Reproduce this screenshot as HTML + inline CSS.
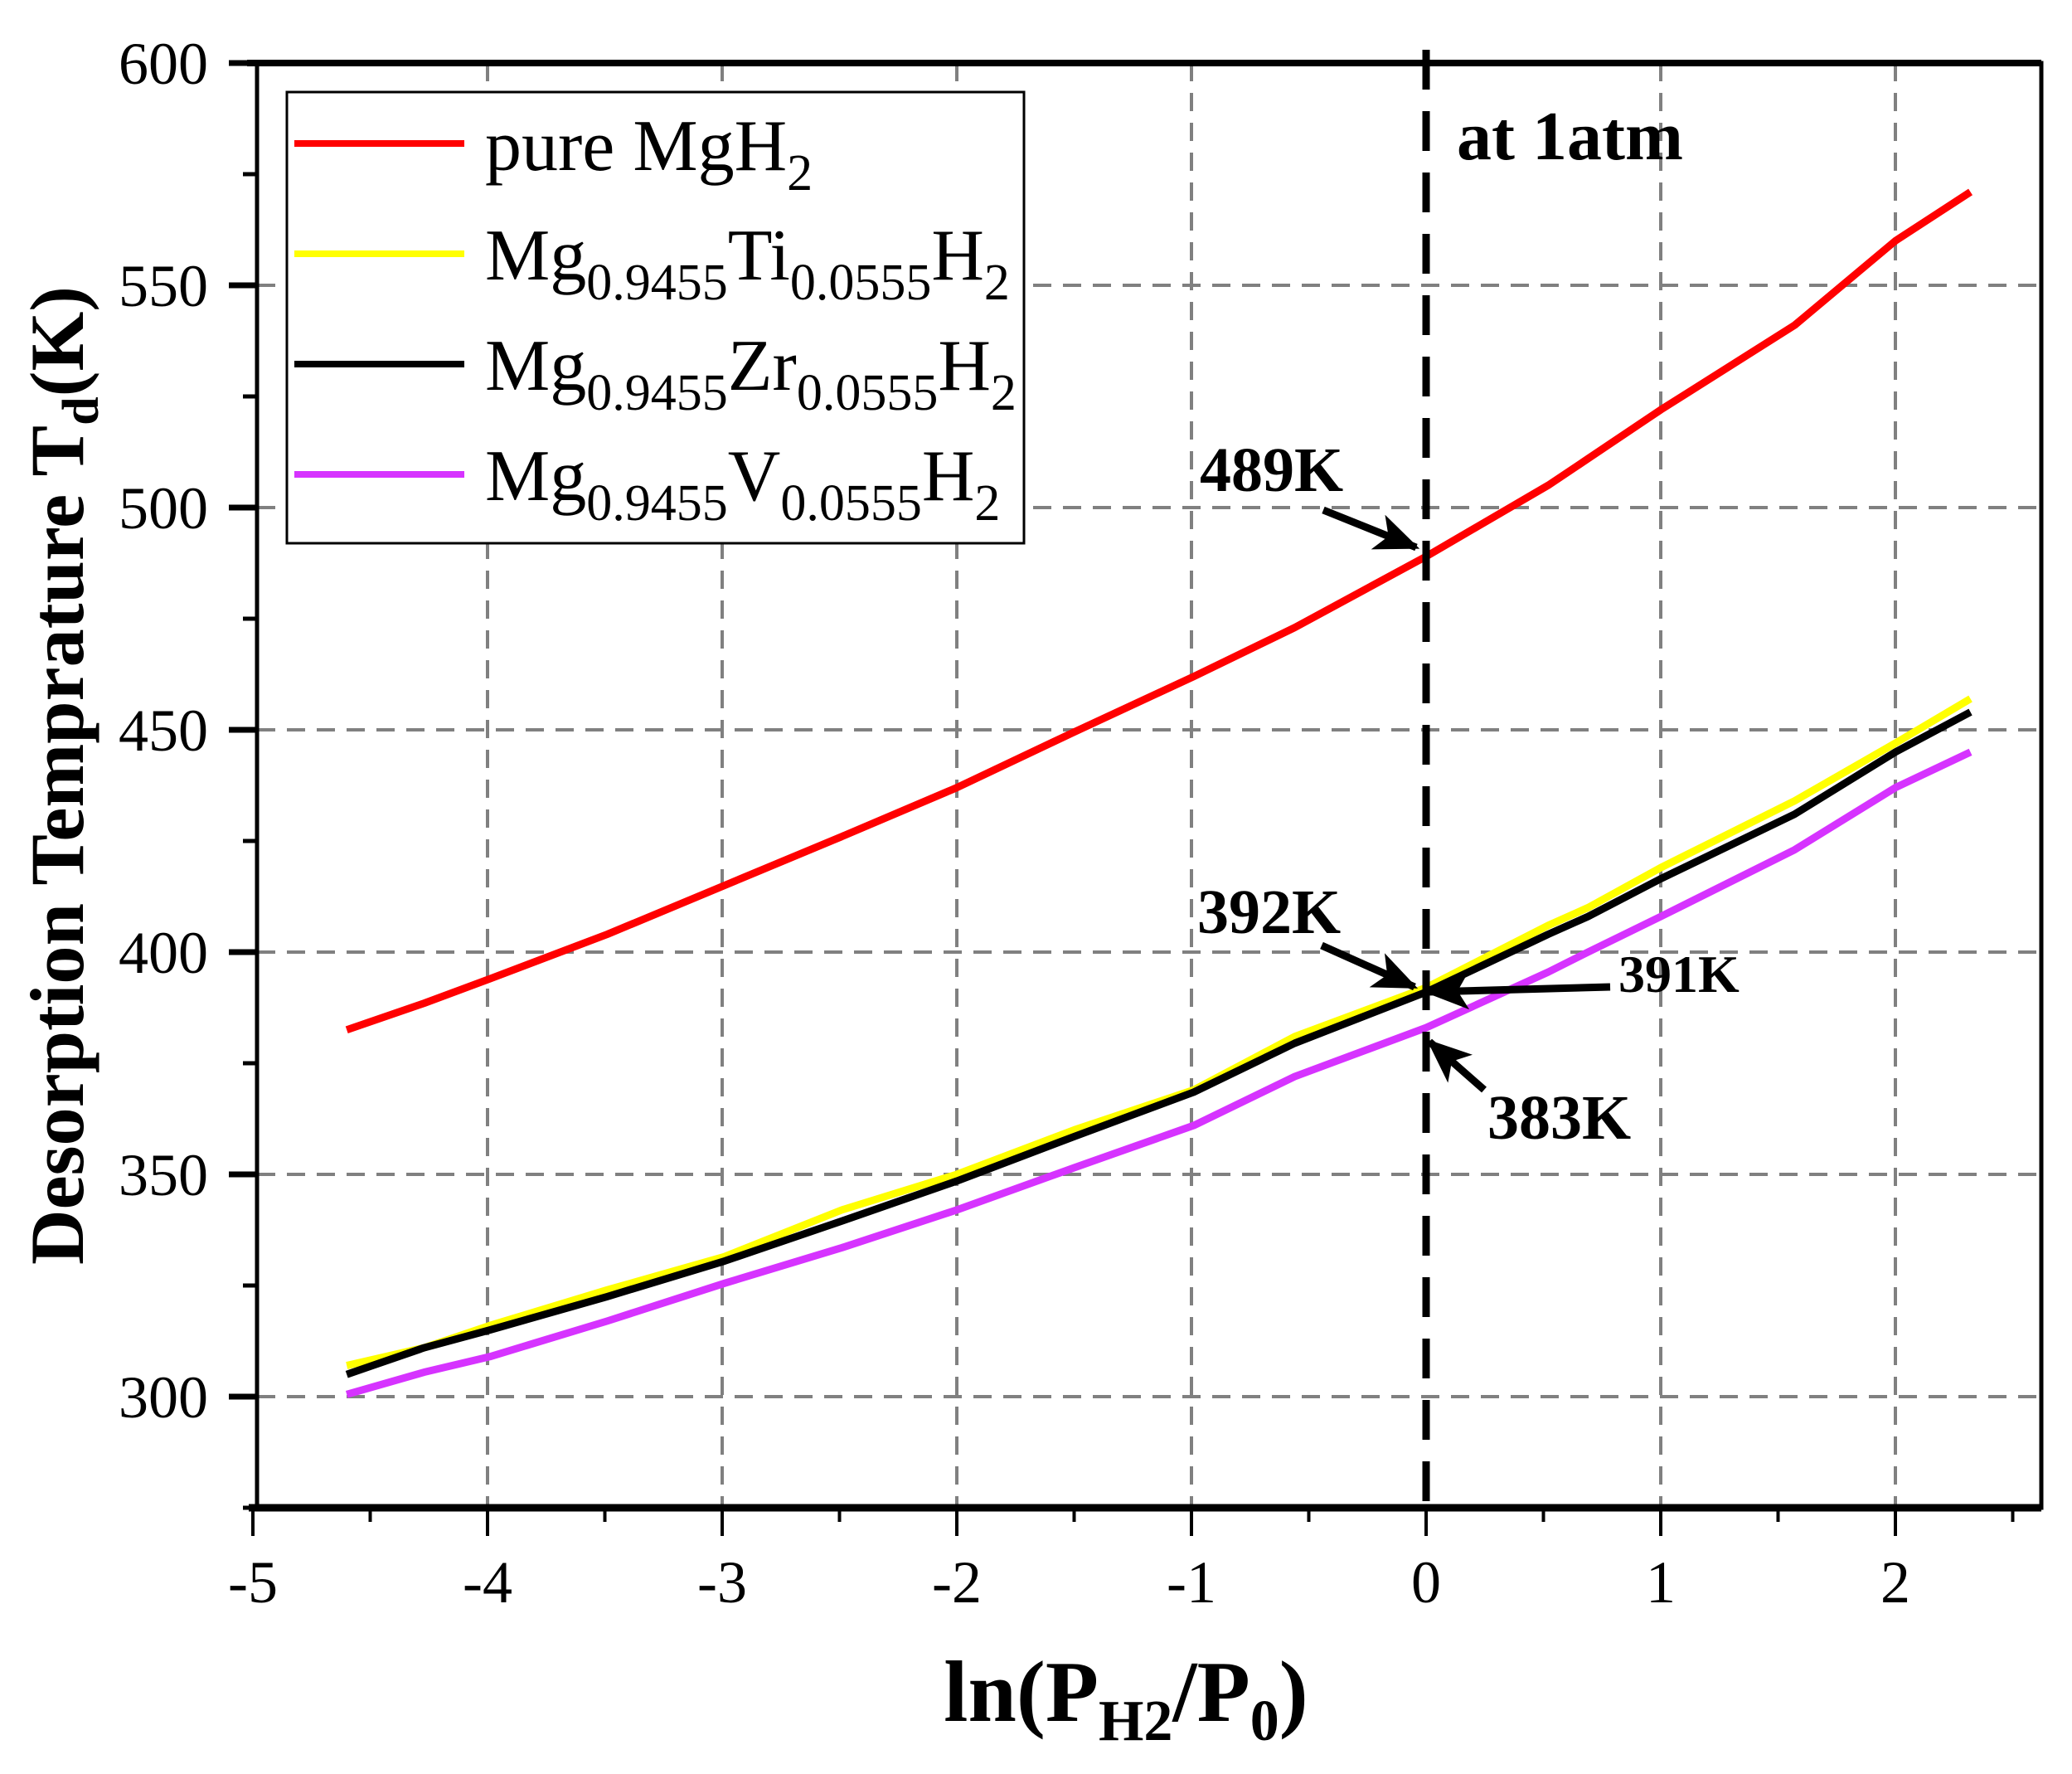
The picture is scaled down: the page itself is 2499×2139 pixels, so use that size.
<!DOCTYPE html>
<html><head><meta charset="utf-8"><style>
html,body{margin:0;padding:0;background:#fff;}
svg{display:block;font-family:"Liberation Serif",serif;}
</style></head><body>
<svg id="chart" width="2499" height="2139" viewBox="0 0 2499 2139" xmlns="http://www.w3.org/2000/svg">
<g id="grid"></g>
<g id="series"></g>
<g id="axes"></g>
<rect x="346" y="111" width="889" height="544" fill="#fff" stroke="#000" stroke-width="3"/>
<g font-size="88">
 <line x1="355" y1="173" x2="560" y2="173" stroke="#ff0000" stroke-width="8"/>
 <text x="585" y="205">pure MgH<tspan font-size="62" dy="24">2</tspan></text>
 <line x1="355" y1="306" x2="560" y2="306" stroke="#ffff00" stroke-width="8"/>
 <text x="585" y="337">Mg<tspan font-size="62" dy="24">0.9455</tspan><tspan dy="-24">Ti</tspan><tspan font-size="62" dy="24">0.0555</tspan><tspan dy="-24">H</tspan><tspan font-size="62" dy="24">2</tspan></text>
 <line x1="355" y1="439" x2="560" y2="439" stroke="#000" stroke-width="8"/>
 <text x="585" y="470">Mg<tspan font-size="62" dy="24">0.9455</tspan><tspan dy="-24">Zr</tspan><tspan font-size="62" dy="24">0.0555</tspan><tspan dy="-24">H</tspan><tspan font-size="62" dy="24">2</tspan></text>
 <line x1="355" y1="572" x2="560" y2="572" stroke="#d633ff" stroke-width="8"/>
 <text x="585" y="603">Mg<tspan font-size="62" dy="24">0.9455</tspan><tspan dy="-24">V</tspan><tspan font-size="62" dy="24">0.0555</tspan><tspan dy="-24">H</tspan><tspan font-size="62" dy="24">2</tspan></text>
</g>
<line x1="1720" y1="60" x2="1720" y2="1818" stroke="#000" stroke-width="9" stroke-dasharray="48,26"/>
<text x="1757" y="192" font-size="84" font-weight="bold">at 1atm</text>
<defs><marker id="ah" markerWidth="6" markerHeight="5" refX="5.5" refY="2.5" orient="auto" markerUnits="strokeWidth"><path d="M0,0 L6,2.5 L0,5 L1.5,2.5 Z" fill="#000"/></marker></defs>
<g font-weight="bold">
 <text x="1447" y="592" font-size="76">489K</text>
 <line x1="1596" y1="615" x2="1708" y2="660" stroke="#000" stroke-width="9" marker-end="url(#ah)"/>
 <text x="1444" y="1125" font-size="76">392K</text>
 <line x1="1594" y1="1140" x2="1706" y2="1190" stroke="#000" stroke-width="9" marker-end="url(#ah)"/>
 <text x="1952" y="1196" font-size="64">391K</text>
 <line x1="1942" y1="1190" x2="1722" y2="1196" stroke="#000" stroke-width="9" marker-end="url(#ah)"/>
 <text x="1794" y="1373" font-size="76">383K</text>
 <line x1="1790" y1="1314" x2="1724" y2="1256" stroke="#000" stroke-width="9" marker-end="url(#ah)"/>
</g>
<text transform="translate(100,935) rotate(-90)" text-anchor="middle" font-size="92" font-weight="bold" textLength="1180" lengthAdjust="spacingAndGlyphs">Desorption Temprature T<tspan font-size="62" dy="18">d</tspan><tspan dy="-18">(K)</tspan></text>
<text x="1358" y="2075" text-anchor="middle" font-size="105" font-weight="bold">ln(P<tspan font-size="70" dy="23">H2</tspan><tspan dy="-23">/P</tspan><tspan font-size="70" dy="23">0</tspan><tspan dy="-23">)</tspan></text>
<script>
const xs = [-4.6,-4.27,-3.99,-3.49,-2.99,-2.49,-2.0,-1.5,-0.99,-0.56,0,0.52,0.69,1.0,1.57,2.0,2.32];
const pureMgH2 = [382.5,388.5,394,404,415,426,437,449.5,462,473,489,505,511,522,541,560,571];
const tiDoped = [307,311,316,324,331.5,342,350,360,369,381,392,406,410,419,434,447,457];
const zrDoped = [305,311,315,322.5,330.5,339.5,348.5,358.5,368.5,379.5,391,404,408,416.5,431,445,454];
const vDoped = [300.5,305.5,309,317,325.5,333.5,342,351.5,361,372,383,395.5,400,408,423,437,445];
const xTicks = [-5,-4,-3,-2,-1,0,1,2];
const xTickLabels = ["-5","-4","-3","-2","-1","0","1","2"];
const yTicks = [300,350,400,450,500,550,600];
const yTickLabels = ["300","350","400","450","500","550","600"];
const NS="http://www.w3.org/2000/svg";
const L=310,R=2462,T=76,B=1818;
function sx(v){return 1720+v*283;}
function sy(v){return T+(600-v)*268/50;}
function mk(tag,attrs,parent){const e=document.createElementNS(NS,tag);for(const k in attrs)e.setAttribute(k,attrs[k]);parent.appendChild(e);return e;}
const grid=document.getElementById('grid'),axes=document.getElementById('axes'),ser=document.getElementById('series');
xTicks.forEach(v=>{if(v>-5&&v!==0){const g=mk('line',{x1:sx(v),x2:sx(v),y1:T,y2:B,stroke:'#808080','stroke-width':4,'stroke-dasharray':'22,14'},grid);

}});
yTicks.forEach(v=>{if(v<600){const g=mk('line',{x1:L,x2:R,y1:sy(v),y2:sy(v),stroke:'#808080','stroke-width':4,'stroke-dasharray':'22,14'},grid);

}});
const series=[[pureMgH2,'#ff0000','series-pure-mgh2'],[tiDoped,'#ffff00','series-ti'],[vDoped,'#d633ff','series-v'],[zrDoped,'#000000','series-zr']];
series.forEach(s=>{const p=mk('polyline',{points:xs.map((x,i)=>sx(x)+','+sy(s[0][i])).join(' '),fill:'none',stroke:s[1],'stroke-width':9,'stroke-linejoin':'round'},ser);

});
const box=mk('path',{d:`M${L},${T} H${R} V${B} H${L} Z`,fill:'none',stroke:'#000','stroke-width':5},axes);


const bx=mk('line',{x1:L-10,x2:R,y1:B,y2:B,stroke:'#000','stroke-width':9},axes);


const tx=mk('line',{x1:L-12,x2:R,y1:T,y2:T,stroke:'#000','stroke-width':8},axes);


for(let v=-5;v<=2.5;v+=0.5){const maj=Number.isInteger(v);const t=mk('line',{x1:sx(v),x2:sx(v),y1:B,y2:B+(maj?34:17),stroke:'#000','stroke-width':4},axes);

}
xTicks.forEach((v,i)=>{const t=mk('text',{x:sx(v),y:1932,'text-anchor':'middle','font-size':72},axes);t.textContent=xTickLabels[i];

});
for(let v=275;v<=600;v+=25){const maj=v%50===0;const t=mk('line',{x1:maj?L-34:L-17,x2:L,y1:sy(v),y2:sy(v),stroke:'#000','stroke-width':maj?7:5},axes);

}
yTicks.forEach((v,i)=>{const t=mk('text',{x:251,y:sy(v)+25,'text-anchor':'end','font-size':72},axes);t.textContent=yTickLabels[i];

});
</script>
</svg>
</body></html>
